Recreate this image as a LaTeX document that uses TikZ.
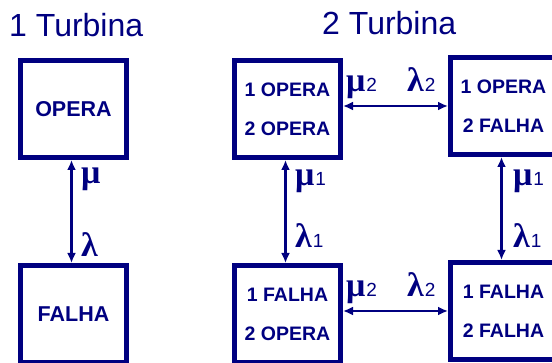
\documentclass[tikz,border=0pt]{standalone}
\usepackage{fontspec}
\setmainfont{Liberation Sans}
\newfontfamily\gk{Liberation Serif}
\usetikzlibrary{arrows.meta}
\definecolor{navy}{RGB}{0,0,128}
\newcommand\rt[2]{{\fontsize{34}{34}\selectfont\gk\bfseries #1}\kern1pt{\fontsize{19}{19}\selectfont #2}}
\begin{document}
\begin{tikzpicture}[x=1pt,y=-1pt,
  statebox/.style={draw=navy, line width=5pt, minimum width=106pt, minimum height=97pt,
    inner sep=0pt, text=navy, font=\fontsize{19.5}{39}\selectfont\bfseries, align=center},
  bigtext/.style={font=\fontsize{21.5}{26}\selectfont\bfseries},
  title/.style={text=navy, inner sep=0pt, anchor=base west, font=\fontsize{32}{32}\selectfont},
  rate/.style={text=navy, inner sep=0pt, anchor=base west},
  link/.style={draw=navy, line width=2.8pt, {Latex[length=10pt,width=9pt]}-{Latex[length=10pt,width=9pt]}}]
\useasboundingbox (0,0) rectangle (552,363);
\clip (0,0) rectangle (552,363);
% titles
\node[title] (T1) at (9,37) {1 Turbina};
\node[title] (T2) at (322,35) {2 Turbina};
% one turbine
\node[statebox,bigtext] (A) at (73.5,109) {OPERA};
\node[statebox,bigtext] (B) at (73.5,314) {FALHA};
\draw[link] ([xshift=-2pt]A.south) -- ([xshift=-2pt]B.north);
\node[rate] (mA) at (81,184) {\rt{μ}{}};
\node[rate] (lA) at (81,257) {\rt{λ}{}};
% two turbines
\node[statebox] (S1) at (287.5,109) {1 OPERA\\2 OPERA};
\node[statebox] (S2) at (503.5,106) {1 OPERA\\2 FALHA};
\node[statebox] (S3) at (287.5,314) {1 FALHA\\2 OPERA};
\node[statebox] (S4) at (503.5,311) {1 FALHA\\2 FALHA};
\draw[link] (S1.east |- S2.west) -- (S2.west);
\draw[link] (S3.east |- S4.west) -- (S4.west);
\draw[link] ([xshift=-2pt]S1.south) -- ([xshift=-2pt]S3.north);
\draw[link] ([xshift=-2pt]S2.south) -- ([xshift=-2pt]S4.north);
\node[rate] (m2a) at (346,92) {\rt{μ}{2}};
\node[rate] (l2a) at (407,92) {\rt{λ}{2}};
\node[rate] (m2b) at (346,297) {\rt{μ}{2}};
\node[rate] (l2b) at (407,297) {\rt{λ}{2}};
\node[rate] (m1a) at (295,186) {\rt{μ}{1}};
\node[rate] (l1a) at (295,248) {\rt{λ}{1}};
\node[rate] (m1b) at (513,186) {\rt{μ}{1}};
\node[rate] (l1b) at (513,248) {\rt{λ}{1}};
\end{tikzpicture}
\end{document}
